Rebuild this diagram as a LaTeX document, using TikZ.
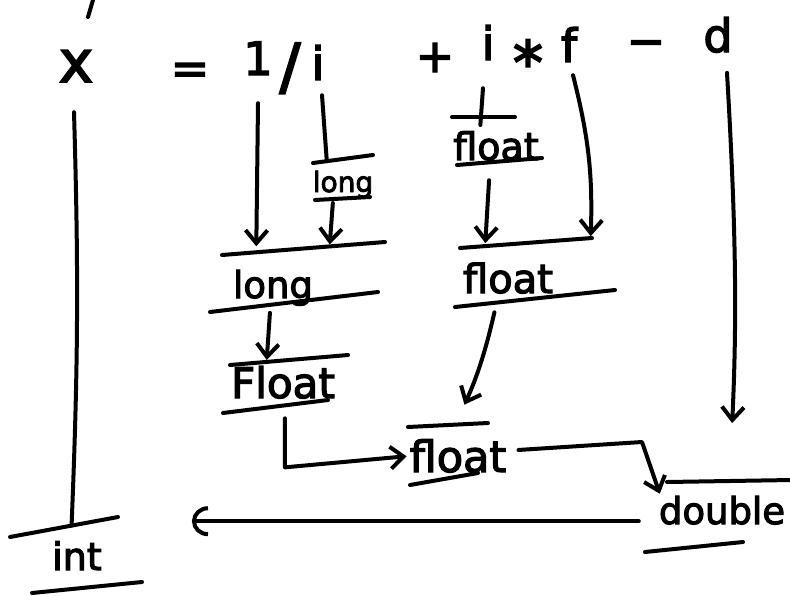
\documentclass[tikz,border=0pt]{standalone}
\usepackage{fontspec}
\setmainfont{DejaVu Sans}[FakeBold=3]
\usetikzlibrary{arrows.meta,calc}

\tikzset{
  pen/.style={line width=4pt, line cap=round, line join=round},
  arr/.style={pen, -{Straight Barb[length=13pt,width=22pt]}},
  arrc/.style={pen, -{Arc Barb[length=16pt,width=30pt]}},
  sym/.style={font=\fontsize{46}{46}\selectfont, anchor=base, inner sep=0pt},
  ty/.style={anchor=base, inner sep=0pt},
}

\begin{document}
\begin{tikzpicture}[x=1pt,y=-1pt]
\useasboundingbox (0,0) rectangle (790,595);

% stroke left over from the line above
\draw[pen] (88,17) -- (93,0);

% ---- the expression ----
\node[sym, font=\fontsize{58}{58}\selectfont] (xv) at (76,82) {x};
\node[sym] (eq)    at (190,84) {=};
\node[sym] (one)   at (258,75) {1};
\node[sym, font=\fontsize{62}{62}\selectfont] (sl) at (290,88) {/};
\node[sym] (iA)    at (318,80) {i};
\node[sym] (plus)  at (435,72) {+};
\node[sym] (iB)    at (488,60) {i};
\node[sym, font=\fontsize{60}{60}\selectfont] (star) at (528,84) {*};
\node[sym] (fB)    at (569,62) {f};
\node[sym] (minus) at (646,57) {−};
\node[sym] (dD)    at (718,52) {d};

% ---- intermediate types ----
\node[ty, font=\fontsize{28}{28}\selectfont] (lngS) at (343,192) {long};
\node[ty, font=\fontsize{37}{37}\selectfont] (lngB) at (273,298) {long};
\node[ty, font=\fontsize{42}{42}\selectfont] (Flt)  at (283,398) {Float};
\node[ty, font=\fontsize{38}{38}\selectfont] (fltA) at (496,160) {float};
\node[ty, font=\fontsize{40}{40}\selectfont] (fltB) at (508,293) {float};
\node[ty, font=\fontsize{43}{43}\selectfont] (fltC) at (458,472) {float};
\node[ty, font=\fontsize{37}{37}\selectfont] (dbl)  at (722,524) {double};
\node[ty, font=\fontsize{38}{38}\selectfont] (intT) at (77,570)  {int};

% bars over and under each type
\draw[pen] (313,163) coordinate (lngS-ol) -- (373,155) coordinate (lngS-or);
\draw[pen] (315,200) coordinate (lngS-ul) -- (370,197) coordinate (lngS-ur);
\draw[pen] (222,255) coordinate (lngB-ol) -- (385,242) coordinate (lngB-or);
\draw[pen] (210,312) coordinate (lngB-ul) -- (378,292) coordinate (lngB-ur);
\draw[pen] (230,365) coordinate (Flt-ol)  -- (348,355) coordinate (Flt-or);
\draw[pen] (223,413) coordinate (Flt-ul)  -- (328,400) coordinate (Flt-ur);
\draw[pen] (452,117) coordinate (fltA-ol) -- (515,117) coordinate (fltA-or);
\draw[pen] (457,165) coordinate (fltA-ul) -- (542,158) coordinate (fltA-ur);
\draw[pen] (460,248) coordinate (fltB-ol) -- (592,238) coordinate (fltB-or);
\draw[pen] (455,307) coordinate (fltB-ul) -- (615,290) coordinate (fltB-ur);
\draw[pen] (408,427) coordinate (fltC-ol) -- (488,423) coordinate (fltC-or);
\draw[pen] (410,485) coordinate (fltC-ul) -- (478,473) coordinate (fltC-ur);
\draw[pen] (667,482) coordinate (dbl-ol)  -- (792,480) coordinate (dbl-or);
\draw[pen] (645,552) coordinate (dbl-ul)  -- (743,542) coordinate (dbl-ur);
\draw[pen] (10,537)  coordinate (int-ol)  -- (118,517) coordinate (int-or);
\draw[pen] (32,593)  coordinate (int-ul)  -- (142,582) coordinate (int-ur);

% ---- connectors ----
% x down to int
\draw[pen] ([xshift=-2pt,yshift=-30pt]xv.south) to[bend left=2] ($(int-ol)!0.57!(int-or)$);
% 1 -> long
\draw[arr, shorten >=6pt] ([yshift=-28pt]one.south) -- ($(lngB-ol)!0.21!(lngB-or)$);
% i -> long (small) -> long
\draw[pen] ([xshift=4pt,yshift=-15pt]iA.south) -- ($(lngS-ol)!0.23!(lngS-or)$);
\draw[arr, shorten <=4pt, shorten >=2pt] ($(lngS-ul)!0.33!(lngS-ur)$) -- ($(lngB-ol)!0.66!(lngB-or)$);
% long -> Float
\draw[arr, shorten <=8pt, shorten >=2pt] ($(lngB-ul)!0.36!(lngB-ur)$) -- ($(Flt-ol)!0.31!(Flt-or)$);
% Float -> float
\draw[arr, shorten >=3pt] ($(Flt-ul)!0.59!(Flt-ur)+(0,13)$) -- ++(0,49) -- (fltC.west);
% i -> float (through the bar)
\draw[pen] ([xshift=-5pt,yshift=-28pt]iB.south) -- ($(fltA-ol)!0.45!(fltA-or)+(0,8)$);
% float -> float
\draw[arr, shorten <=18pt, shorten >=3pt] ($(fltA-ul)!0.39!(fltA-ur)$) -- ($(fltB-ol)!0.19!(fltB-or)$);
% f -> float
\draw[arr, shorten >=2pt] ([xshift=4pt,yshift=-13pt]fB.south) to[bend left=8] ($(fltB-ol)!0.99!(fltB-or)$);
% float -> float
\draw[arr, shorten <=10pt, shorten >=22pt] ($(fltB-ul)!0.26!(fltB-ur)$) to[bend left=6] ($(fltC-ol)!0.59!(fltC-or)$);
% d -> double
\draw[arr, shorten >=58pt] ([xshift=9pt,yshift=-20pt]dD.south) to[bend left=3] ($(dbl-ol)!0.5!(dbl-or)$);
% float -> double
\draw[arr] ([xshift=12pt,yshift=6pt]fltC.east) -- (642,442) -- ([xshift=1pt,yshift=31pt]dbl.south west);
% double -> int
\coordinate (lt) at ($(dbl.west)+(-20,11)$);
\draw[arrc, shorten >=90pt] (lt) -- (lt -| intT.east);
\end{tikzpicture}
\end{document}
